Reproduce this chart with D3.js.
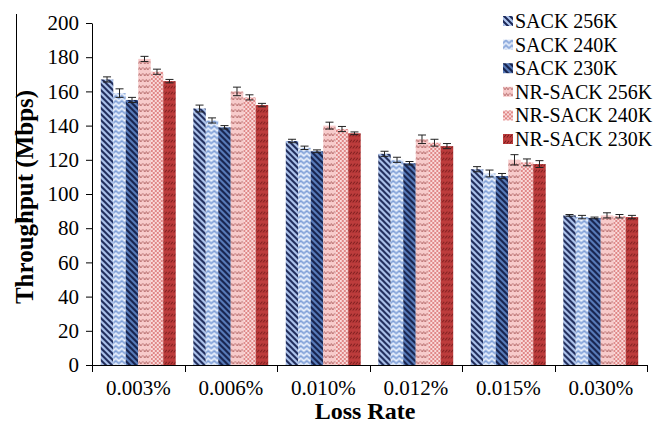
<!DOCTYPE html>
<html>
<head>
<meta charset="utf-8">
<script src="https://cdn.jsdelivr.net/npm/d3@7"></script>
<style>
  html, body { margin: 0; padding: 0; background: #fff; }
</style>
</head>
<body>
<svg id="chart" width="656" height="426"></svg>
<script>
// Throughput per loss rate for SACK and NR-SACK with three buffer sizes
const categories = ["0.003%", "0.006%", "0.010%", "0.012%", "0.015%", "0.030%"];
const seriesNames = ["SACK 256K", "SACK 240K", "SACK 230K", "NR-SACK 256K", "NR-SACK 240K", "NR-SACK 230K"];

const sack256 = [167, 150, 131, 123.5, 114.5, 87.5];
const sack240 = [159, 143, 127, 120, 112, 86.5];
const sack230 = [155, 139, 125, 118, 110.5, 86];
const nrSack256 = [179, 160, 140, 132, 120, 87.5];
const nrSack240 = [171.5, 156.5, 138, 130, 118.5, 87];
const nrSack230 = [166, 152, 135.5, 128, 117.5, 86.5];

const sack256Err = [1.5, 2, 1, 1.5, 1.5, 0.5];
const sack240Err = [2.5, 1.5, 1, 1.5, 2, 1];
const sack230Err = [1.5, 1, 0.8, 1, 1.5, 0.5];
const nrSack256Err = [1.5, 2.5, 2, 2.5, 3, 1.5];
const nrSack240Err = [1.5, 1.5, 1.5, 2, 2, 1];
const nrSack230Err = [1, 1, 0.8, 1.5, 2, 1];

const yTicks = [0, 20, 40, 60, 80, 100, 120, 140, 160, 180, 200];

const seriesValues = [sack256, sack240, sack230, nrSack256, nrSack240, nrSack230];
const seriesErrors = [sack256Err, sack240Err, sack230Err, nrSack256Err, nrSack240Err, nrSack230Err];
const patternIds = ["p-s256", "p-s240", "p-s230", "p-n256", "p-n240", "p-n230"];

const FONT = "'Liberation Serif', 'Times New Roman', Times, 'DejaVu Serif', serif";

const svg = d3.select("#chart").attr("font-family", FONT);
const defs = svg.append("defs");

// Fill patterns for each series
function addPattern(id, w, h, bg, draw) {
  const p = defs.append("pattern")
    .attr("id", id).attr("patternUnits", "userSpaceOnUse")
    .attr("width", w).attr("height", h);
  p.append("rect").attr("width", w).attr("height", h).attr("fill", bg);
  draw(p);
}
// dark diagonal stripes on light blue
addPattern("p-s256", 6, 6, "#aec5ee", p => {
  p.append("path").attr("d", "M-1,-1 L7,7 M-4,2 L2,8 M4,-2 L10,4")
    .attr("stroke", "#1b2756").attr("stroke-width", 2);
});
// blue and white zigzag chevrons
addPattern("p-s240", 6, 5, "#c3d4f1", p => {
  p.append("path").attr("d", "M0,3.5 L3,0.8 L6,3.5")
    .attr("fill", "none").attr("stroke", "#7f9fd6").attr("stroke-width", 1.2);
  p.append("path").attr("d", "M0,6 L3,3.3 L6,6 M0,1 L3,-1.7 L6,1")
    .attr("fill", "none").attr("stroke", "#f2f6fd").attr("stroke-width", 1);
});
// dark diagonal stripes on medium blue
addPattern("p-s230", 6, 6, "#5a7ebd", p => {
  p.append("path").attr("d", "M-1,-1 L7,7 M-4,2 L2,8 M4,-2 L10,4")
    .attr("stroke", "#16224d").attr("stroke-width", 2.2);
});
// small wavy marks on light pink
addPattern("p-n256", 7, 6, "#f7cbcb", p => {
  p.append("path").attr("d", "M0.5,1.5 L2,4 L3.5,1.5 L5,4 L6.5,1.5")
    .attr("fill", "none").attr("stroke", "#b06464").attr("stroke-width", 0.9);
});
// pink checkerboard
addPattern("p-n240", 4, 4, "#f9dada", p => {
  p.append("rect").attr("x", 0).attr("y", 0).attr("width", 2).attr("height", 2).attr("fill", "#e08888");
  p.append("rect").attr("x", 2).attr("y", 2).attr("width", 2).attr("height", 2).attr("fill", "#e08888");
});
// short dark dashes on red
addPattern("p-n230", 6, 6, "#bd3c3c", p => {
  p.append("path").attr("d", "M1,4.5 L3,1.5 M4,4.5 L6,1.5")
    .attr("stroke", "#6e1616").attr("stroke-width", 1);
});

const plotLeft = 92, plotRight = 647, plotTop = 23, plotBottom = 365;

const x0 = d3.scaleBand().domain(categories).range([plotLeft, plotRight])
  .paddingInner(0.19).paddingOuter(0.095);
const x1 = d3.scaleBand().domain(seriesNames).range([0, x0.bandwidth()]);
const y = d3.scaleLinear().domain([0, 200]).range([plotBottom, plotTop]);

// L-shaped rule left of the y title
svg.append("path").attr("d", "M16.5,14 L16.5,218.5 L28,218.5")
  .attr("fill", "none").attr("stroke", "#000").attr("stroke-width", 1);

// Bars
const groups = svg.append("g").selectAll("g")
  .data(categories).join("g")
  .attr("transform", d => `translate(${x0(d)},0)`);

groups.each(function (cat, ci) {
  const g = d3.select(this);
  seriesNames.forEach((name, si) => {
    const v = seriesValues[si][ci];
    g.append("rect")
      .attr("x", x1(name)).attr("y", y(v))
      .attr("width", x1.bandwidth()).attr("height", y(0) - y(v))
      .attr("fill", `url(#${patternIds[si]})`);
  });
  seriesNames.forEach((name, si) => {
    const v = seriesValues[si][ci], e = seriesErrors[si][ci];
    const cx = x1(name) + x1.bandwidth() / 2;
    const eb = g.append("g").attr("stroke", "#222").attr("stroke-width", 1);
    eb.append("line").attr("x1", cx).attr("x2", cx).attr("y1", y(v + e)).attr("y2", y(v - e));
    eb.append("line").attr("x1", cx - 4).attr("x2", cx + 4).attr("y1", y(v + e)).attr("y2", y(v + e));
    eb.append("line").attr("x1", cx - 4).attr("x2", cx + 4).attr("y1", y(v - e)).attr("y2", y(v - e));
  });
});

// Y axis
const yAxis = svg.append("g").attr("transform", `translate(${plotLeft},0)`)
  .call(d3.axisLeft(y).tickValues(yTicks).tickSize(6).tickPadding(7).tickSizeOuter(0))
  .attr("font-family", FONT).attr("font-size", 21);
yAxis.select(".domain").attr("stroke", "#000");
yAxis.selectAll(".tick line").attr("stroke", "#000");
yAxis.selectAll(".tick text").attr("fill", "#000");

// X axis: ticks at category boundaries, labels at category centres
const xAxisG = svg.append("g").attr("transform", `translate(0,${plotBottom})`);
xAxisG.append("line").attr("x1", plotLeft).attr("x2", plotRight).attr("y1", 0.5).attr("y2", 0.5)
  .attr("stroke", "#000");
const step = x0.step();
const boundaries = d3.range(categories.length + 1).map(i => plotLeft + i * step);
xAxisG.selectAll("line.tk").data(boundaries).join("line").attr("class", "tk")
  .attr("x1", d => Math.round(d) + 0.5).attr("x2", d => Math.round(d) + 0.5)
  .attr("y1", 0).attr("y2", 7).attr("stroke", "#000");
xAxisG.selectAll("text").data(categories).join("text")
  .attr("x", d => x0(d) + x0.bandwidth() / 2).attr("y", 30)
  .attr("text-anchor", "middle").attr("font-size", 21).attr("fill", "#000")
  .text(d => d);

// Axis titles
svg.append("text").attr("x", 365).attr("y", 419)
  .attr("text-anchor", "middle").attr("font-size", 24).attr("font-weight", "bold")
  .text("Loss Rate");
svg.append("text").attr("transform", "translate(33,197) rotate(-90)")
  .attr("text-anchor", "middle").attr("font-size", 25).attr("font-weight", "bold")
  .text("Throughput (Mbps)");

// Legend
const legend = svg.append("g").selectAll("g").data(seriesNames).join("g")
  .attr("transform", (d, i) => `translate(503,${21 + i * 23.6})`);
legend.append("rect").attr("x", 0).attr("y", -5).attr("width", 10).attr("height", 10)
  .attr("fill", (d, i) => `url(#${patternIds[i]})`);
legend.append("text").attr("x", 12).attr("y", 7)
  .attr("font-size", 20).attr("fill", "#000").text(d => d);
</script>
</body>
</html>
